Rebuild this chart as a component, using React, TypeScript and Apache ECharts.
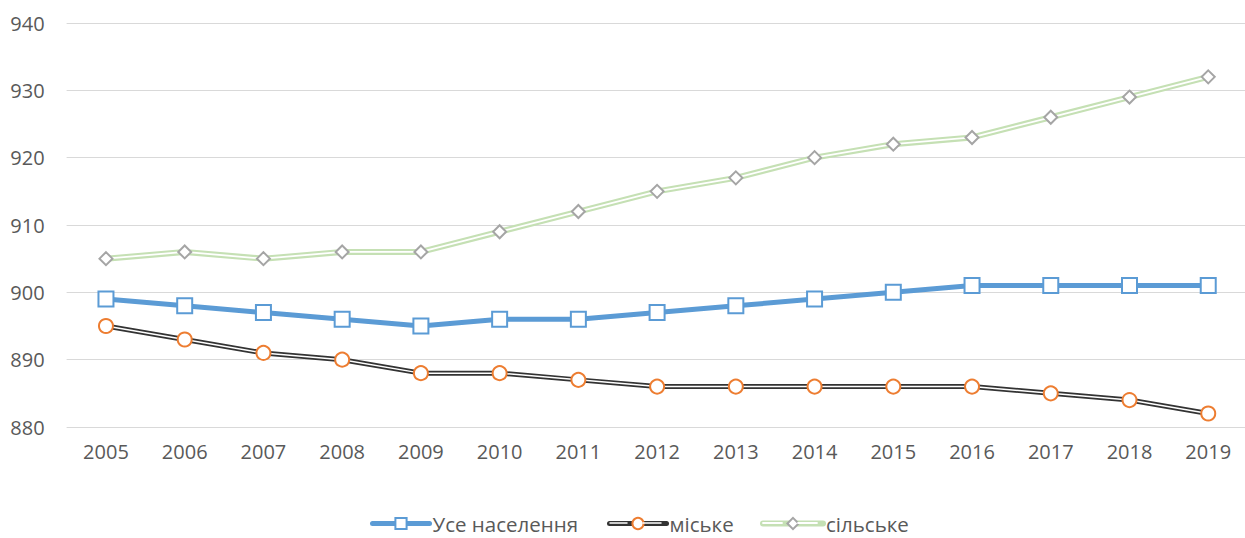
import React, { useEffect, useRef } from "react";
import * as echarts from "echarts";

const years = ["2005","2006","2007","2008","2009","2010","2011","2012","2013","2014","2015","2016","2017","2018","2019"];
const allPop = [899, 898, 897, 896, 895, 896, 896, 897, 898, 899, 900, 901, 901, 901, 901];
const urban = [895, 893, 891, 890, 888, 888, 887, 886, 886, 886, 886, 886, 885, 884, 882];
const rural = [905, 906, 905, 906, 906, 909, 912, 915, 917, 920, 922, 923, 926, 929, 932];
const names = ["Усе населення", "міське", "сільське"];

const FONT = "'Open Sans', 'Noto Sans', sans-serif";
const LEG_TOP = 513;
const LEG_Y = 523;

function legendFor(name: string, left: number, width: number, color: string, lw: number) {
  return {
    top: LEG_TOP,
    left,
    padding: 0,
    itemWidth: width,
    itemHeight: 14,
    textStyle: { color: "#595959", fontSize: 20.5, lineHeight: 20, fontFamily: FONT, padding: [0, 0, 0, -2] },
    data: [{ name, lineStyle: { color, width: lw, opacity: 1, cap: "round" } }],
  };
}

export default function App() {
  const ref = useRef<HTMLDivElement>(null);
  useEffect(() => {
    if (!ref.current) return;
    const chart = echarts.init(ref.current, null, { renderer: "svg" });
    const whiteSeg = (x1: number, x2: number, w: number) => ({
      type: "line",
      z: 100,
      shape: { x1, y1: LEG_Y, x2, y2: LEG_Y },
      style: { stroke: "#ffffff", lineWidth: w, lineCap: "round" },
    });
    chart.setOption({
      animation: false,
      backgroundColor: "#ffffff",
      grid: { left: 66.6, right: 2.4, top: 23, bottom: 111, containLabel: false },
      legend: [
        legendFor(names[0], 370, 57, "#5b9bd5", 5),
        legendFor(names[1], 607, 57, "#333333", 5),
        legendFor(names[2], 760, 60, "#c5e0b4", 6),
      ],
      graphic: [
        whiteSeg(610, 627, 1.5),
        whiteSeg(643, 661, 1.5),
        whiteSeg(763, 782, 1.8),
        whiteSeg(798, 817, 1.8),
      ],
      xAxis: {
        type: "category",
        data: years,
        boundaryGap: true,
        axisLine: { show: false },
        axisTick: { show: false },
        axisLabel: { color: "#595959", fontSize: 20, fontFamily: FONT, margin: 14 },
      },
      yAxis: {
        type: "value",
        min: 880,
        max: 940,
        interval: 10,
        axisLine: { show: false },
        axisTick: { show: false },
        splitLine: { lineStyle: { color: "#d9d9d9", width: 1 } },
        axisLabel: { color: "#595959", fontSize: 20, fontFamily: FONT, margin: 22 },
      },
      series: [
        { type: "line", data: rural, showSymbol: false, z: 2, lineStyle: { color: "#c5e0b4", width: 6 }, silent: true },
        { type: "line", data: rural, showSymbol: false, z: 3, lineStyle: { color: "#ffffff", width: 1.8 }, silent: true },
        {
          name: names[2], type: "line", data: rural, z: 4,
          symbol: "diamond", symbolSize: 13,
          itemStyle: { color: "#ffffff", borderColor: "#a5a5a5", borderWidth: 2 },
          lineStyle: { opacity: 0, width: 0 },
        },
        { type: "line", data: urban, showSymbol: false, z: 2, lineStyle: { color: "#333333", width: 5 }, silent: true },
        { type: "line", data: urban, showSymbol: false, z: 3, lineStyle: { color: "#ffffff", width: 1.5 }, silent: true },
        {
          name: names[1], type: "line", data: urban, z: 4,
          symbol: "circle", symbolSize: 14,
          itemStyle: { color: "#ffffff", borderColor: "#ed7d31", borderWidth: 2 },
          lineStyle: { opacity: 0, width: 0 },
        },
        {
          name: names[0], type: "line", data: allPop, z: 5,
          symbol: "rect", symbolSize: 15,
          itemStyle: { color: "#ffffff", borderColor: "#5b9bd5", borderWidth: 2 },
          lineStyle: { color: "#5b9bd5", width: 5 },
        },
      ],
    });
    return () => chart.dispose();
  }, []);
  return (
    <div
      ref={ref}
      style={{ position: "fixed", left: 0, top: 0, width: 1250, height: 538 }}
    />
  );
}
